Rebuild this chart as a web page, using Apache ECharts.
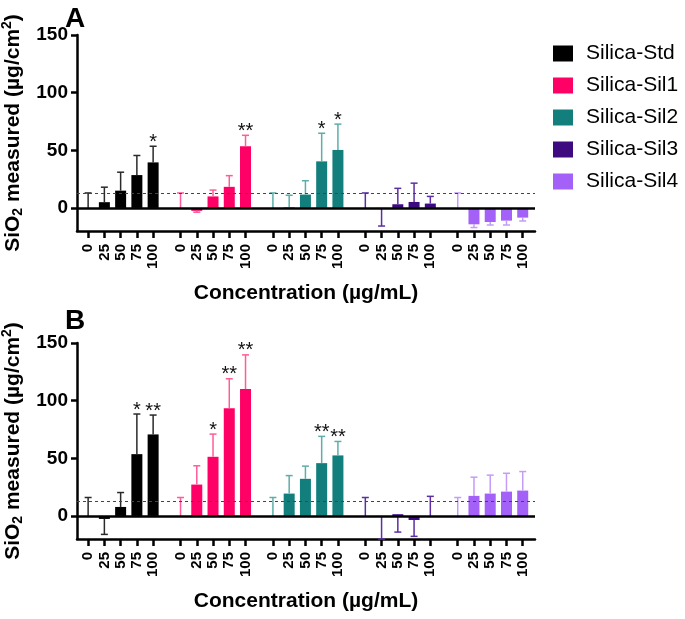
<!DOCTYPE html>
<html>
<head>
<meta charset="utf-8">
<script src="https://cdn.jsdelivr.net/npm/echarts@6/dist/echarts.min.js"></script>
<style>
  html, body { margin: 0; padding: 0; background: #fff; }
  #chart { width: 685px; height: 619px; }
</style>
</head>
<body>
<div id="chart"></div>
<script>
const concentrations = ["0", "25", "50", "75", "100"];
const groupNames = ["Silica-Std", "Silica-Sil1", "Silica-Sil2", "Silica-Sil3", "Silica-Sil4"];
const yTickValues = [0, 50, 100, 150];
const detectionLimit = 13;

// panel A: bar heights, signed error-bar length, significance marks
const meansA = [
  [0, 5, 15, 28.5, 39.5],
  [0, -2.5, 10, 18.3, 53.5],
  [0, 0.5, 11.6, 40.4, 50.3],
  [0, -0.5, 3.2, 5.2, 3.8],
  [0, -14.2, -12.2, -11, -8.4],
];
const errorsA = [
  [13, 13, 16, 17, 14],
  [13, -1.2, 5.5, 9.7, 9.5],
  [13, 10.5, 12, 24.4, 22.4],
  [13, -15.2, 13.8, 16.3, 6.2],
  [13, -2.8, -2.6, -3.8, -2.9],
];
const starsA = [
  ["", "", "", "", "*"],
  ["", "", "", "", "**"],
  ["", "", "", "*", "*"],
  ["", "", "", "", ""],
  ["", "", "", "", ""],
];

// panel B
const meansB = [
  [0, -2.6, 7.8, 53.6, 70.7],
  [0, 27.2, 51.3, 93.3, 110],
  [0, 19.4, 32.2, 45.8, 52.5],
  [0, -0.5, 1.5, -3.5, 0],
  [0, 17.4, 19.4, 21.1, 22],
];
const errorsB = [
  [16, -13.4, 12.5, 34.8, 16.8],
  [16, 16.3, 19.7, 25.7, 29.7],
  [16, 15.6, 11, 23.2, 12.1],
  [16, -19.5, -15.5, -14.2, 17],
  [16, 16.2, 16, 15.9, 16.5],
];
const starsB = [
  ["", "", "", "*", "**"],
  ["", "", "*", "**", "**"],
  ["", "", "", "**", "**"],
  ["", "", "", "", ""],
  ["", "", "", "", ""],
];

const barColors = ["#000000", "#FF0066", "#127F7C", "#3D0A80", "#A461F8"];
const errColors = ["#2a2a2a", "#FF5C99", "#5DADA9", "#5B2FA3", "#C39CF8"];
const FONT = '"Liberation Sans", Arial, sans-serif';

const grids = [];
const xAxes = [];
const yAxes = [];
const series = [];

function errorBarRenderer(color, marks) {
  return function (params, api) {
    const i = api.value(0);
    const base = api.coord([i, api.value(1)]);
    const end = api.coord([i, api.value(2)]);
    const children = [
      { type: "line", shape: { x1: base[0], y1: base[1], x2: end[0], y2: end[1] }, style: { stroke: color, lineWidth: 1.5 } },
      { type: "line", shape: { x1: end[0] - 3.5, y1: end[1], x2: end[0] + 3.5, y2: end[1] }, style: { stroke: color, lineWidth: 1.5 } },
    ];
    const mark = marks[params.dataIndex];
    if (mark) {
      children.push({
        type: "text",
        style: { text: mark, x: end[0], y: end[1] + 6, align: "center", verticalAlign: "bottom", font: "20px " + FONT, fill: "#111" },
      });
    }
    return { type: "group", children };
  };
}

function addPanel(top, means, errors, stars) {
  const height = 196;
  // frame grid: y axis, bottom axis line, zero line, dashed detection line
  const fi = grids.length;
  grids.push({ left: 77, width: 458, top, height, outerBoundsMode: "none" });
  xAxes.push({
    type: "value", gridIndex: fi, min: 0, max: 1, position: "bottom",
    axisLine: { show: true, onZero: false, lineStyle: { color: "#000", width: 2.5 } },
    axisTick: { show: false }, axisLabel: { show: false }, splitLine: { show: false },
    name: "Concentration (µg/mL)", nameLocation: "middle", nameGap: 52,
    nameTextStyle: { fontSize: 21, fontWeight: "bold", color: "#000", fontFamily: FONT },
  });
  yAxes.push({
    type: "value", gridIndex: fi, min: -20, max: 150,
    axisLine: { show: true, onZero: false, lineStyle: { color: "#000", width: 2.5 } },
    axisTick: { show: true, length: 6, customValues: yTickValues, lineStyle: { color: "#000", width: 2.5 } },
    axisLabel: { customValues: yTickValues, fontSize: 19, fontWeight: "bold", color: "#000", margin: 9, fontFamily: FONT },
    splitLine: { show: false },
    name: "{n|SiO}{s|2}{n| measured (µg/cm}{p|2}{n|)}",
    nameLocation: "middle", nameRotate: 90, nameGap: 45,
    nameTextStyle: {
      fontFamily: FONT, color: "#000",
      rich: {
        n: { fontSize: 21, fontWeight: "bold", fontFamily: FONT, color: "#000", lineHeight: 25 },
        s: { fontSize: 14, fontWeight: "bold", fontFamily: FONT, color: "#000", verticalAlign: "bottom", lineHeight: 25 },
        p: { fontSize: 14, fontWeight: "bold", fontFamily: FONT, color: "#000", verticalAlign: "top", lineHeight: 25 },
      },
    },
  });
  series.push({
    type: "line", xAxisIndex: fi, yAxisIndex: fi, data: [], z: 6, silent: true,
    markLine: {
      symbol: "none", silent: true, label: { show: false }, animation: false,
      data: [
        { yAxis: 0, lineStyle: { color: "#000", width: 2.5, type: "solid" } },
        { yAxis: detectionLimit, lineStyle: { color: "#444", width: 1.2, type: [3, 3] } },
      ],
    },
  });

  groupNames.forEach((name, g) => {
    const gi = grids.length;
    grids.push({ left: 80 + g * 92.4, width: 81.25, top, height, outerBoundsMode: "none" });
    xAxes.push({
      type: "category", gridIndex: gi, data: concentrations, position: "bottom",
      axisLine: { show: false, onZero: false },
      axisTick: { show: true, alignWithLabel: true, length: 7, lineStyle: { color: "#000", width: 2.5 } },
      axisLabel: { interval: 0, rotate: 90, fontSize: 15, fontWeight: "bold", color: "#000", margin: 13, fontFamily: FONT },
    });
    yAxes.push({ type: "value", gridIndex: gi, min: -20, max: 150, show: false });
    series.push({
      name, type: "bar", xAxisIndex: gi, yAxisIndex: gi, barWidth: 11,
      itemStyle: { color: barColors[g] }, data: means[g], z: 2,
    });
    series.push({
      type: "custom", xAxisIndex: gi, yAxisIndex: gi, z: 3, silent: true,
      renderItem: errorBarRenderer(errColors[g], stars[g]),
      encode: { x: 0, y: [1, 2] },
      data: means[g].map((m, i) => [i, m, m + errors[g][i]]),
    });
  });
}

addPanel(35, meansA, errorsA, starsA);
addPanel(343, meansB, errorsB, starsB);

const chart = echarts.init(document.getElementById("chart"));
chart.setOption({
  animation: false,
  textStyle: { fontFamily: FONT },
  title: [
    { text: "A", left: 60, top: 0, textStyle: { fontSize: 28, fontWeight: "bold", color: "#000", fontFamily: FONT } },
    { text: "B", left: 60, top: 302, textStyle: { fontSize: 28, fontWeight: "bold", color: "#000", fontFamily: FONT } },
  ],
  legend: {
    data: groupNames, orient: "vertical", left: 553, top: 43, padding: 0,
    icon: "rect", itemWidth: 20, itemHeight: 16, itemGap: 11,
    textStyle: { fontSize: 21, color: "#000", fontFamily: FONT, padding: [0, 0, 0, 8] },
  },
  grid: grids,
  xAxis: xAxes,
  yAxis: yAxes,
  series,
});
</script>
</body>
</html>
